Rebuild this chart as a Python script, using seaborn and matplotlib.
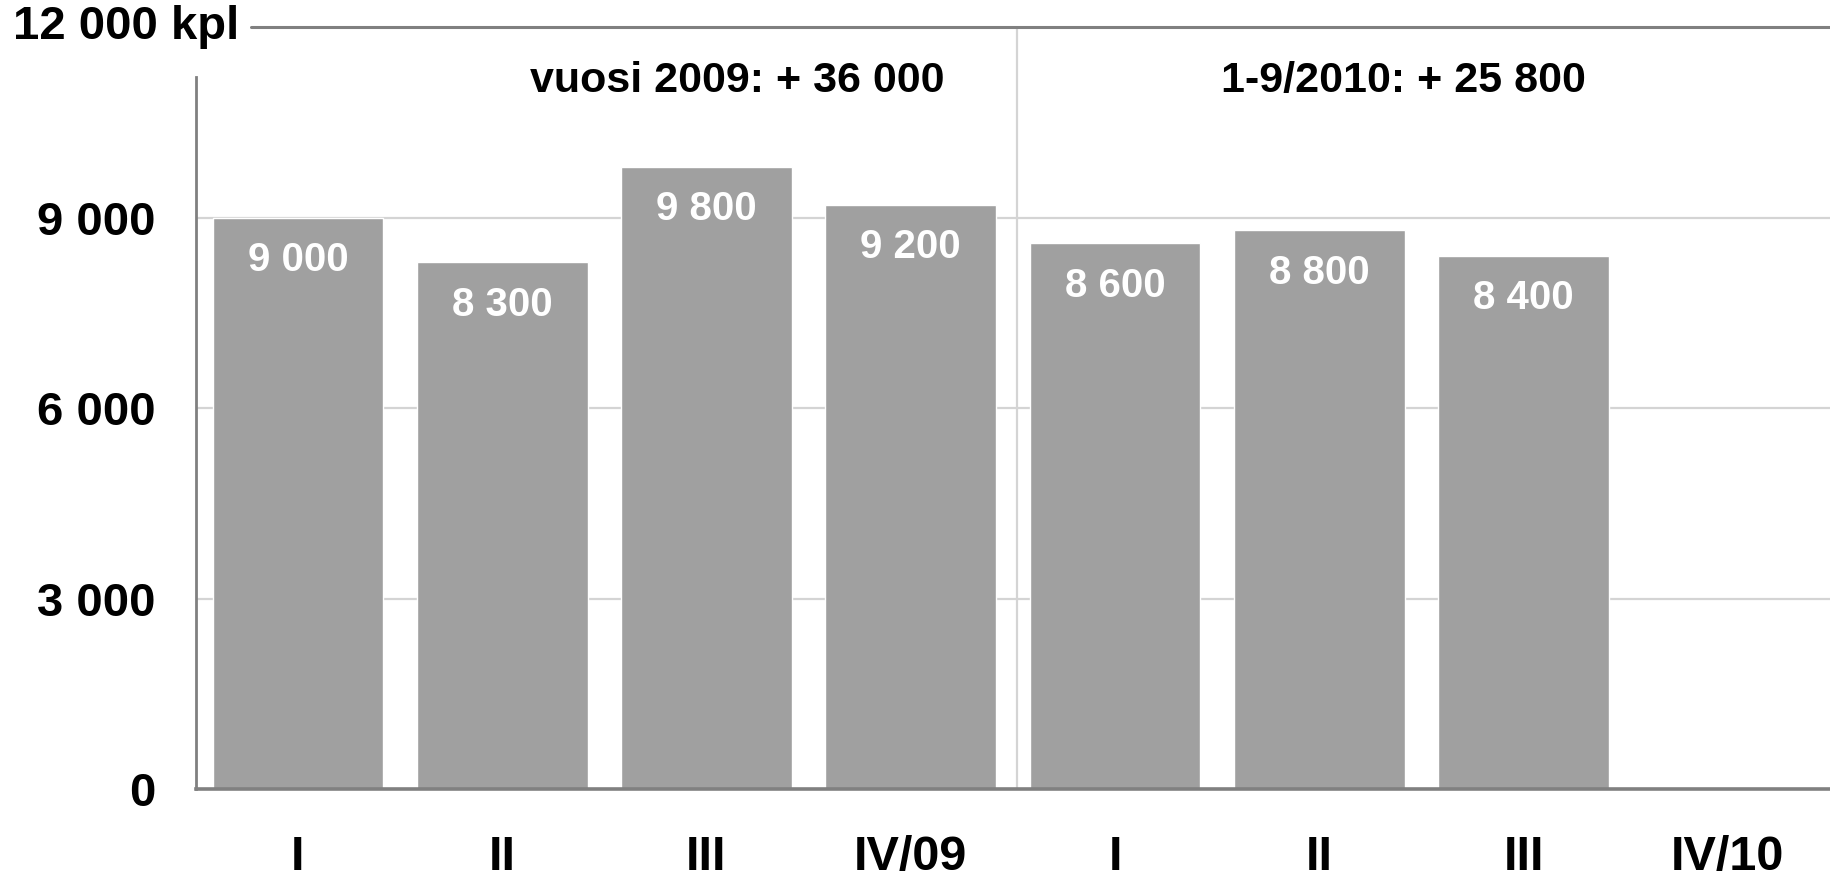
import numpy as np
import pandas as pd
import matplotlib
matplotlib.use("Agg")
import matplotlib.pyplot as plt
import seaborn as sns

# data
quarter_keys = ["I/09", "II/09", "III/09", "IV/09", "I/10", "II/10", "III/10", "IV/10"]
quarter_labels = ["I", "II", "III", "IV/09", "I", "II", "III", "IV/10"]
values = [9000, 8300, 9800, 9200, 8600, 8800, 8400, np.nan]
value_texts = ["9 000", "8 300", "9 800", "9 200", "8 600", "8 800", "8 400", ""]
y_ticks = [0, 3000, 6000, 9000]
y_tick_labels = ["0", "3 000", "6 000", "9 000"]
year_notes = ["vuosi 2009: + 36 000", "1-9/2010: + 25 800"]
note_x = [2.15, 5.41]


def draw_chart():
    sns.set_style("white")
    plt.rcParams["font.family"] = ["Liberation Sans", "DejaVu Sans"]
    plt.rcParams["font.weight"] = "bold"

    df = pd.DataFrame({"quarter": quarter_keys, "value": values})

    fig = plt.figure(figsize=(18.3, 8.83), dpi=100)
    ax = fig.add_axes([0.107, 0.1065, 0.893, 0.8625])

    sns.barplot(data=df, x="quarter", y="value", order=quarter_keys,
                color="#a0a0a0", saturation=1, width=0.835, ax=ax, zorder=3)

    ax.set_xlim(-0.5, 7.5)
    ax.set_ylim(0, 12000)

    # gridlines and group separator
    for t in y_ticks[1:]:
        ax.axhline(t, color="#d4d4d4", lw=1.6, zorder=1)
    ax.axvline(3.52, color="#d4d4d4", lw=1.6, zorder=1)
    ax.axhline(12000, xmin=0.034, xmax=1, color="#808080", lw=2.2,
               zorder=4, clip_on=False)

    for side in ["top", "right"]:
        ax.spines[side].set_visible(False)
    ax.spines["left"].set_color("#808080")
    ax.spines["left"].set_linewidth(2.0)
    ax.spines["left"].set_bounds(0, 11220)
    ax.spines["bottom"].set_color("#808080")
    ax.spines["bottom"].set_linewidth(2.6)
    ax.spines["bottom"].set_zorder(5)

    ax.set_yticks(y_ticks)
    ax.set_yticklabels(y_tick_labels)
    ax.set_xticks(range(len(quarter_labels)))
    ax.set_xticklabels(quarter_labels)
    ax.tick_params(axis="y", length=0, pad=29, labelsize=34, labelcolor="black")
    ax.tick_params(axis="x", length=0, pad=33, labelsize=35, labelcolor="black")
    for lab in ax.get_xticklabels() + ax.get_yticklabels():
        lab.set_fontweight("bold")
    ax.set_xlabel("")
    ax.set_ylabel("")

    ax.text(0.0265, 12000, "12 000 kpl", transform=ax.get_yaxis_transform(),
            ha="right", va="center", fontsize=34, fontweight="bold",
            color="black", clip_on=False)

    # value labels inside the bars
    for i, (v, txt) in enumerate(zip(values, value_texts)):
        if np.isnan(v):
            continue
        ax.annotate(txt, xy=(i, v), xytext=(0, -30.5), textcoords="offset points",
                    ha="center", va="center", color="white", fontsize=29,
                    fontweight="bold", zorder=6)

    for x, note in zip(note_x, year_notes):
        ax.text(x, 11150, note, ha="center", va="center", fontsize=31,
                fontweight="bold", color="black")

    fig.savefig("out.png", dpi=100)


if __name__ == "__main__":
    draw_chart()
